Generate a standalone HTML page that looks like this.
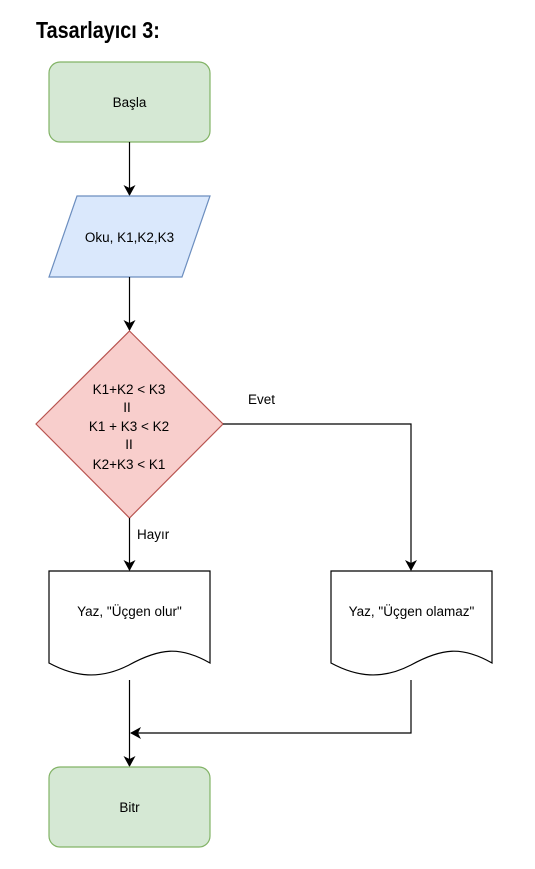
<!DOCTYPE html>
<html><head><meta charset="utf-8"><style>
body{margin:0;background:#fff;width:535px;height:869px;overflow:hidden}
svg{display:block}
text{font-family:"Liberation Sans",Arial,sans-serif;font-size:13.5px;fill:#000}
</style></head><body>
<svg width="535" height="869" viewBox="0 0 535 869">
<defs><marker id="a" markerWidth="12" markerHeight="12" refX="10" refY="6" orient="auto" markerUnits="userSpaceOnUse"><path d="M0,0 L11,6 L0,12 L3,6 Z" fill="#000"/></marker></defs>
<text transform="translate(36,38) scale(0.86,1)" style="font-family:'Liberation Sans',sans-serif;font-size:23px;font-weight:bold">Tasarlayıcı 3:</text>
<rect x="49" y="62" width="161" height="80" rx="11" fill="#d5e8d4" stroke="#82b366" stroke-width="1.2"/>
<text x="129.5" y="107" text-anchor="middle">Başla</text>
<line x1="129.5" y1="142" x2="129.5" y2="195" stroke="#000" stroke-width="1.2" marker-end="url(#a)"/>
<polygon points="77,196 210,196 182,277 49,277" fill="#dae8fc" stroke="#6c8ebf" stroke-width="1.2"/>
<text x="129.5" y="242" text-anchor="middle">Oku, K1,K2,K3</text>
<line x1="129.5" y1="277" x2="129.5" y2="330" stroke="#000" stroke-width="1.2" marker-end="url(#a)"/>
<polygon points="129.5,331 223,424 129.5,518 36,424" fill="#f8cecc" stroke="#b85450" stroke-width="1.2"/>
<g text-anchor="middle">
<text x="129" y="394">K1+K2 &lt; K3</text>
<text x="127" y="412">II</text>
<text x="129" y="431">K1 + K3 &lt; K2</text>
<text x="129" y="449">II</text>
<text x="129" y="469">K2+K3 &lt; K1</text>
</g>
<text x="248" y="404">Evet</text>
<polyline points="223,424 411,424 411,570" fill="none" stroke="#000" stroke-width="1.2" marker-end="url(#a)"/>
<line x1="129.5" y1="518" x2="129.5" y2="570" stroke="#000" stroke-width="1.2" marker-end="url(#a)"/>
<text x="137" y="539">Hayır</text>
<path d="M49,571 H210 V663 C180,646 160,648 129,665 C100,680 75,677 49,663 Z" fill="#fff" stroke="#000" stroke-width="1.2"/>
<text x="129.5" y="616" text-anchor="middle">Yaz, "Üçgen olur"</text>
<path d="M331,571 H492 V663 C462,646 442,648 411,665 C382,680 357,677 331,663 Z" fill="#fff" stroke="#000" stroke-width="1.2"/>
<text x="411.5" y="616" text-anchor="middle">Yaz, "Üçgen olamaz"</text>
<line x1="129.5" y1="680" x2="129.5" y2="766" stroke="#000" stroke-width="1.2" marker-end="url(#a)"/>
<polyline points="411,680 411,733 131,733" fill="none" stroke="#000" stroke-width="1.2" marker-end="url(#a)"/>
<rect x="49" y="767" width="161" height="80" rx="11" fill="#d5e8d4" stroke="#82b366" stroke-width="1.2"/>
<text x="129.5" y="812" text-anchor="middle">Bitr</text>
</svg>
</body></html>
